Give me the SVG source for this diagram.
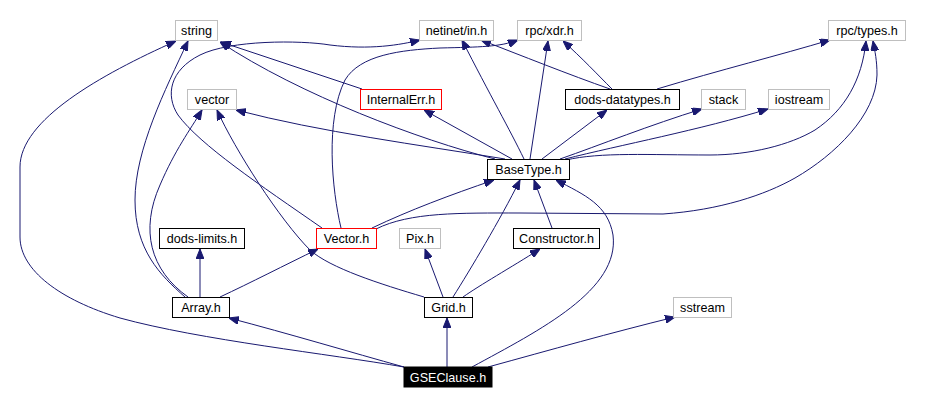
<svg xmlns="http://www.w3.org/2000/svg" width="936" height="404" viewBox="0 0 936 404">
<style>
.n rect{fill:#fff;stroke:#000;stroke-width:1}
.n.ext rect{stroke:#bfbfbf}
.n.red rect{stroke:#ff0000}
.n.root rect{fill:#000;stroke:#000}
.n text{font-family:"Liberation Sans",Arial,sans-serif;font-size:12.6px;text-anchor:middle;fill:#000}
.n.root text{fill:#fff}
#edges path{fill:none;stroke:#191970;stroke-width:1;marker-end:url(#ah)}
</style>
<defs>
<marker id="ah" viewBox="0 0 10 8" refX="10" refY="4" markerWidth="10" markerHeight="8" markerUnits="userSpaceOnUse" orient="auto">
<path d="M0,0 L10,4 L0,8 z" fill="#191970" stroke="#191970"/>
</marker>
</defs>
<rect width="936" height="404" fill="#fff"/>
<g id="edges">
<path d="M404,367 C 350,352 290,334 229,318"/>
<path d="M447,367 L447,318"/>
<path d="M472,367 C 540,330 620,290 613,235 C 608,205 585,195 556,180"/>
<path d="M488,367 C 550,350 610,333 675,317"/>
<path d="M404,367 C 330,354 200,340 120,318 C 60,300 20,270 20,237 L20,167 C 20,120 100,75 176,41"/>
<path d="M200,297 L200,249"/>
<path d="M220,297 C 250,283 285,265 318,249"/>
<path d="M185,297 C 160,275 135,250 135,200 C 135,150 165,90 188,41"/>
<path d="M188,297 C 150,270 140,230 160,185 C 175,150 190,130 202,110"/>
<path d="M443,297 L425,249"/>
<path d="M463,297 C 480,285 510,268 540,249"/>
<path d="M453,297 C 470,270 500,220 520,180"/>
<path d="M424,297 C 380,284 330,268 310,250 C 280,220 235,150 217,110"/>
<path d="M552,228 L534,180"/>
<path d="M372,228 C 410,210 450,195 494,180"/>
<path d="M322,228 C 260,185 200,145 178,115 C 165,95 170,70 200,55 C 230,40 300,40 330,45 C 370,50 400,45 420,40"/>
<path d="M341,228 C 332,190 325,120 345,80 C 360,55 400,50 440,48 C 480,47 500,47 518,40"/>
<path d="M376,229 C 410,212 460,213 520,213 L663,214 C 720,210 765,195 795,178 C 835,155 876,115 877,75 C 877,60 875,52 873,41"/>
<path d="M495,159 C 420,140 300,95 220,42"/>
<path d="M505,159 C 420,145 320,132 236,110"/>
<path d="M512,159 L424,110"/>
<path d="M524,159 C 510,130 490,95 462,40"/>
<path d="M530,159 L548,41"/>
<path d="M542,159 L607,110"/>
<path d="M560,159 C 600,145 650,125 702,109"/>
<path d="M565,159 C 620,145 700,130 768,109"/>
<path d="M566,160 C 600,152 650,155 710,155 C 750,155 790,145 815,130 C 845,110 862,80 866,41"/>
<path d="M362,89 L221,42"/>
<path d="M610,89 C 570,75 520,55 481,40"/>
<path d="M612,89 C 598,75 582,58 563,41"/>
<path d="M657,89 C 720,70 780,55 830,40"/>
</g>
<g id="n-string" class="n ext"><rect x="175.5" y="20.5" width="42" height="20"/><text x="196.5" y="35">string</text></g>
<g id="n-netinet" class="n ext"><rect x="419.5" y="20.5" width="74" height="20"/><text x="456.5" y="35">netinet/in.h</text></g>
<g id="n-rpcxdr" class="n ext"><rect x="517.5" y="20.5" width="64" height="20"/><text x="549.5" y="35">rpc/xdr.h</text></g>
<g id="n-rpctypes" class="n ext"><rect x="828.5" y="20.5" width="77" height="20"/><text x="867" y="35">rpc/types.h</text></g>
<g id="n-vector" class="n ext"><rect x="187.5" y="89.5" width="49" height="20"/><text x="212" y="104">vector</text></g>
<g id="n-internalerr" class="n red"><rect x="360.5" y="89.5" width="81" height="20"/><text x="401" y="104">InternalErr.h</text></g>
<g id="n-dodsdatatypes" class="n"><rect x="565.5" y="89.5" width="114" height="20"/><text x="622.5" y="104">dods-datatypes.h</text></g>
<g id="n-stack" class="n ext"><rect x="701.5" y="89.5" width="44" height="20"/><text x="723.5" y="104">stack</text></g>
<g id="n-iostream" class="n ext"><rect x="768.5" y="89.5" width="61" height="20"/><text x="799" y="104">iostream</text></g>
<g id="n-basetype" class="n"><rect x="487.5" y="159.5" width="82" height="20"/><text x="528.5" y="174">BaseType.h</text></g>
<g id="n-dodslimits" class="n"><rect x="159.5" y="228.5" width="85" height="20"/><text x="202" y="243">dods-limits.h</text></g>
<g id="n-vectorh" class="n red"><rect x="316.5" y="228.5" width="60" height="20"/><text x="346.5" y="243">Vector.h</text></g>
<g id="n-pix" class="n ext"><rect x="399.5" y="228.5" width="41" height="20"/><text x="420" y="243">Pix.h</text></g>
<g id="n-constructor" class="n"><rect x="513.5" y="228.5" width="86" height="20"/><text x="556.5" y="243">Constructor.h</text></g>
<g id="n-array" class="n"><rect x="172.5" y="297.5" width="57" height="20"/><text x="201" y="312">Array.h</text></g>
<g id="n-grid" class="n"><rect x="424.5" y="297.5" width="48" height="20"/><text x="448.5" y="312">Grid.h</text></g>
<g id="n-sstream" class="n ext"><rect x="673.5" y="297.5" width="58" height="20"/><text x="702.5" y="312">sstream</text></g>
<g id="n-gseclause" class="n root"><rect x="404" y="367" width="88" height="20"/><text x="448" y="382">GSEClause.h</text></g>
</svg>
